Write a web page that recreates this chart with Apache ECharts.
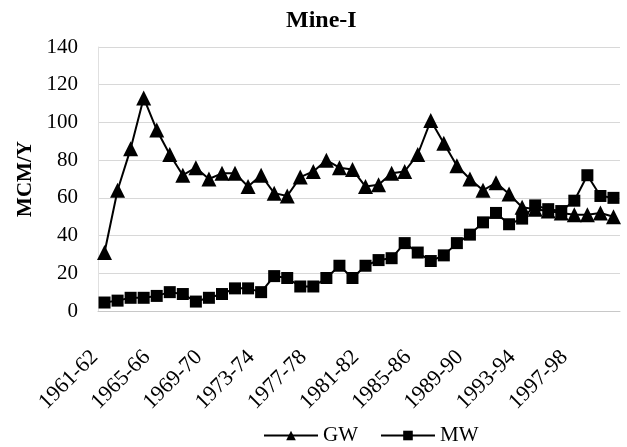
<!DOCTYPE html>
<html>
<head>
<meta charset="utf-8">
<script src="https://cdn.jsdelivr.net/npm/echarts@6/dist/echarts.min.js"></script>
<style>
  html, body { margin: 0; padding: 0; background: #fff; }
  #chart { width: 627px; height: 447px; }
</style>
</head>
<body>
<div id="chart"></div>
<script>
// years on the x axis
var years = [
  '1961-62','1962-63','1963-64','1964-65','1965-66','1966-67','1967-68','1968-69',
  '1969-70','1970-71','1971-72','1972-73','1973-74','1974-75','1975-76','1976-77',
  '1977-78','1978-79','1979-80','1980-81','1981-82','1982-83','1983-84','1984-85',
  '1985-86','1986-87','1987-88','1988-89','1989-90','1990-91','1991-92','1992-93',
  '1993-94','1994-95','1995-96','1996-97','1997-98','1998-99','1999-00','2000-01'
];
// GW series (triangles)
var gwValues = [
  31, 64, 86, 113, 96, 83, 72, 76, 70, 73,
  73, 66, 72, 62.5, 61, 71, 74, 80, 76, 75,
  66, 67, 73, 74, 83, 101, 89, 77, 70, 64,
  68, 62, 55, 54, 53, 52, 51, 51, 52, 50
];
// MW series (squares)
var mwValues = [
  4.5, 5.5, 7, 7, 8, 10, 9, 5, 7, 9,
  12, 12, 10, 18.5, 17.5, 13, 13, 17.5, 24, 17.5,
  24, 27, 28, 36, 31, 26.5, 29.5, 36, 40.5, 47,
  52, 46, 49, 56, 54, 53, 58.5, 72, 61, 60
];
var yTicks = { min: 0, max: 140, step: 20 };

var serif = '"Liberation Serif", "DejaVu Serif", serif';
var myChart = echarts.init(document.getElementById('chart'));
var option = {
  animation: false,
  title: {
    text: 'Mine-I',
    left: 281,
    top: 4,
    textStyle: { fontFamily: serif, fontSize: 24, fontWeight: 'bold', color: '#000' }
  },
  legend: {
    bottom: -4,
    left: 258,
    itemWidth: 54,
    itemHeight: 12,
    itemGap: 22,
    textStyle: { fontFamily: serif, fontSize: 21, color: '#000' },
    data: ['GW', 'MW']
  },
  grid: { left: 98, right: 7, top: 47, bottom: 136 },
  xAxis: {
    type: 'category',
    data: years,
    boundaryGap: true,
    axisLine: { lineStyle: { color: '#c8c8c8' } },
    axisTick: { interval: 0, lineStyle: { color: '#c8c8c8' }, length: 5 },
    axisLabel: {
      interval: 3,
      rotate: 45,
      margin: 33,
      padding: [0, 14, 0, 0],
      fontFamily: serif,
      fontSize: 22,
      color: '#000'
    }
  },
  yAxis: {
    type: 'value',
    min: yTicks.min,
    max: yTicks.max,
    interval: yTicks.step,
    name: 'MCM/Y',
    nameLocation: 'middle',
    nameGap: 62,
    nameTextStyle: { fontFamily: serif, fontSize: 21, fontWeight: 'bold', color: '#000' },
    axisLine: { show: true, lineStyle: { color: '#e0e0e0' } },
    axisTick: { show: false },
    axisLabel: { fontFamily: serif, fontSize: 21, color: '#000', margin: 20 },
    splitLine: { lineStyle: { color: '#d8d8d8' } }
  },
  series: [
    {
      name: 'GW',
      type: 'line',
      data: gwValues,
      symbol: 'triangle',
      symbolSize: 15,
      showAllSymbol: true,
      lineStyle: { color: '#000', width: 2 },
      itemStyle: { color: '#000' }
    },
    {
      name: 'MW',
      type: 'line',
      data: mwValues,
      symbol: 'rect',
      symbolSize: 12,
      showAllSymbol: true,
      lineStyle: { color: '#000', width: 2 },
      itemStyle: { color: '#000' }
    }
  ]
};
myChart.setOption(option);
</script>
</body>
</html>
